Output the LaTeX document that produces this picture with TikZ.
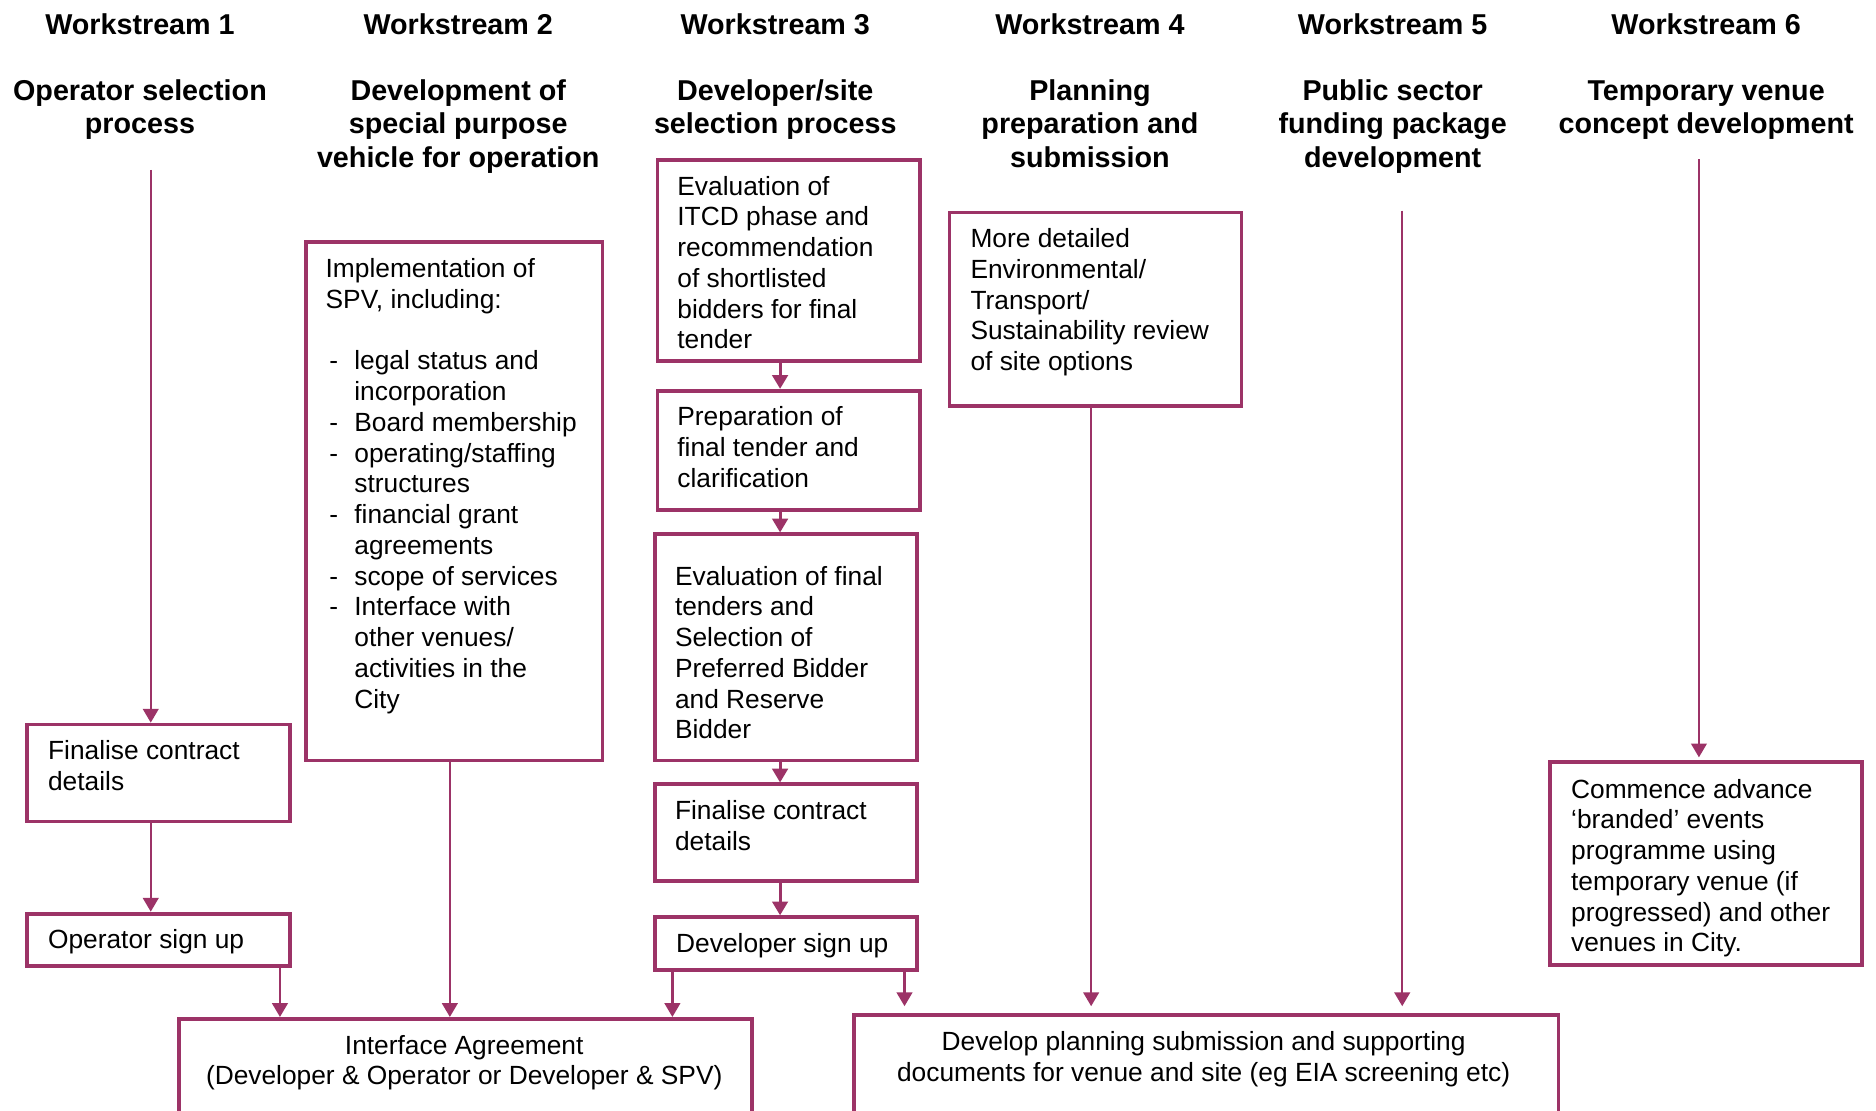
\documentclass[tikz,border=0pt]{standalone}
\usepackage{fontspec}
\setmainfont{Liberation Sans}
\usetikzlibrary{arrows.meta}
\definecolor{wine}{RGB}{156,51,103}
\newcommand\itm{\hspace*{3pt}\makebox[21pt][l]{-}}
\newcommand\ind{\hspace*{24pt}}
\tikzset{
 box/.style={draw=wine, line width=3.2pt, inner sep=0pt, anchor=north west},
 conn/.style={draw=wine, line width=1.9pt, -{Triangle[width=13pt,length=11.5pt]}},
 sconn/.style={conn, line width=2.4pt},
 btxt/.style={inner sep=0pt, anchor=base west, font=\fontsize{22}{25.7}\selectfont},
 ctxt/.style={inner sep=0pt, anchor=base, font=\fontsize{22}{25.7}\selectfont},
 ttl/.style={inner sep=0pt, anchor=base, font=\fontsize{24}{28}\selectfont\bfseries},
}
\begin{document}
\begin{tikzpicture}[x=1pt,y=-1pt]
\path[use as bounding box] (0,0) rectangle (1568,928);
\fill[white] (0,0) rectangle (1568,928);
\clip (0,0) rectangle (1568,928);

% titles
\node[ttl] (w1) at (117,28.5) {\parbox[t]{300pt}{\centering Workstream 1\\[27.5pt]Operator selection\\process}};
\node[ttl] (w2) at (383,28.5) {\parbox[t]{300pt}{\centering Workstream 2\\[27.5pt]Development of\\special purpose\\vehicle for operation}};
\node[ttl] (w3) at (648,28.5) {\parbox[t]{300pt}{\centering Workstream 3\\[27.5pt]Developer/site\\selection process}};
\node[ttl] (w4) at (911,28.5) {\parbox[t]{300pt}{\centering Workstream 4\\[27.5pt]Planning\\preparation and\\submission}};
\node[ttl] (w5) at (1164,28.5) {\parbox[t]{300pt}{\centering Workstream 5\\[27.5pt]Public sector\\funding package\\development}};
\node[ttl] (w6) at (1426,28.5) {\parbox[t]{300pt}{\centering Workstream 6\\[27.5pt]Temporary venue\\concept development}};

% workstream 1
\node[box, minimum width=220pt, minimum height=81pt] (f1) at (21,604) {};
\node[btxt] (f1t) at (40,635) {\parbox[t]{200pt}{Finalise contract\\details}};
\node[box, minimum width=220pt, minimum height=44pt] (os) at (21,762) {};
\node[btxt] (ost) at (40,793) {Operator sign up};

% workstream 2
\node[box, minimum width=248pt, minimum height=433pt] (spv) at (254,201) {};
\node[btxt] (spvt) at (272,232) {\parbox[t]{240pt}{Implementation of\\SPV, including:\\[25.7pt]\itm legal status and\\\ind incorporation\\\itm Board membership\\\itm operating/staffing\\\ind structures\\\itm financial grant\\\ind agreements\\\itm scope of services\\\itm Interface with\\\ind other venues/\\\ind activities in the\\\ind City}};

% workstream 3
\node[box, minimum width=219pt, minimum height=168pt] (ea) at (548,132) {};
\node[btxt] (eat) at (566,163) {\parbox[t]{210pt}{Evaluation of\\ITCD phase and\\recommendation\\of shortlisted\\bidders for final\\tender}};
\node[box, minimum width=219pt, minimum height=100pt] (pf) at (548,325) {};
\node[btxt] (pft) at (566,356) {\parbox[t]{210pt}{Preparation of\\final tender and\\clarification}};
\node[box, minimum width=219pt, minimum height=189pt] (ef) at (546,445) {};
\node[btxt] (eft) at (564,489) {\parbox[t]{210pt}{Evaluation of final\\tenders and\\Selection of\\Preferred Bidder\\and Reserve\\Bidder}};
\node[box, minimum width=219pt, minimum height=81pt] (f3) at (546,654) {};
\node[btxt] (f3t) at (564,685) {\parbox[t]{210pt}{Finalise contract\\details}};
\node[box, minimum width=219pt, minimum height=44pt] (ds) at (546,765) {};
\node[btxt] (dst) at (565,796) {Developer sign up};

% workstream 4
\node[box, minimum width=244pt, minimum height=162pt] (md) at (792,176) {};
\node[btxt] (mdt) at (811,207) {\parbox[t]{230pt}{More detailed\\Environmental/\\Transport/\\Sustainability review\\of site options}};

% workstream 6
\node[box, minimum width=261pt, minimum height=170pt] (cb) at (1294,635) {};
\node[btxt] (cbt) at (1313,667) {\parbox[t]{240pt}{Commence advance\\‘branded’ events\\programme using\\temporary venue (if\\progressed) and other\\venues in City.}};

% bottom boxes
\node[box, minimum width=479pt, minimum height=100pt] (ia) at (148,850) {};
\node[ctxt] (iat) at (388,881) {\parbox[t]{470pt}{\centering Interface Agreement\\(Developer \& Operator or Developer \& SPV)}};
\node[box, minimum width=589pt, minimum height=100pt] (dev) at (712,847) {};
\node[ctxt] (devt) at (1006,878) {\parbox[t]{580pt}{\centering Develop planning submission and supporting\\documents for venue and site (eg EIA screening etc)}};

% connectors
\coordinate (c1) at (126,142);
\coordinate (x2) at (234,0);
\coordinate (x3) at (376,0);
\coordinate (x4) at (652,0);
\coordinate (x5) at (562,0);
\coordinate (x6) at (756,0);
\coordinate (x7) at (912,0);
\coordinate (c5) at (1172,176);
\coordinate (c6) at (1420,133);

\draw[conn] (c1) -- (f1.north -| c1);
\draw[conn] (f1.south -| c1) -- (os.north -| c1);
\draw[conn] (os.south -| x2) -- (ia.north -| x2);
\draw[conn] (spv.south -| x3) -- (ia.north -| x3);
\draw[sconn] (ea.south -| x4) -- (pf.north -| x4);
\draw[sconn] (pf.south -| x4) -- (ef.north -| x4);
\draw[sconn] (ef.south -| x4) -- (f3.north -| x4);
\draw[sconn] (f3.south -| x4) -- (ds.north -| x4);
\draw[conn] (ds.south -| x5) -- (ia.north -| x5);
\draw[conn, shorten >=6pt] (ds.south -| x6) -- (dev.north -| x6);
\draw[conn, shorten >=6pt] (md.south -| x7) -- (dev.north -| x7);
\draw[conn, shorten >=6pt] (c5) -- (dev.north -| c5);
\draw[conn, shorten >=2pt] (c6) -- (cb.north -| c6);
\end{tikzpicture}
\end{document}
